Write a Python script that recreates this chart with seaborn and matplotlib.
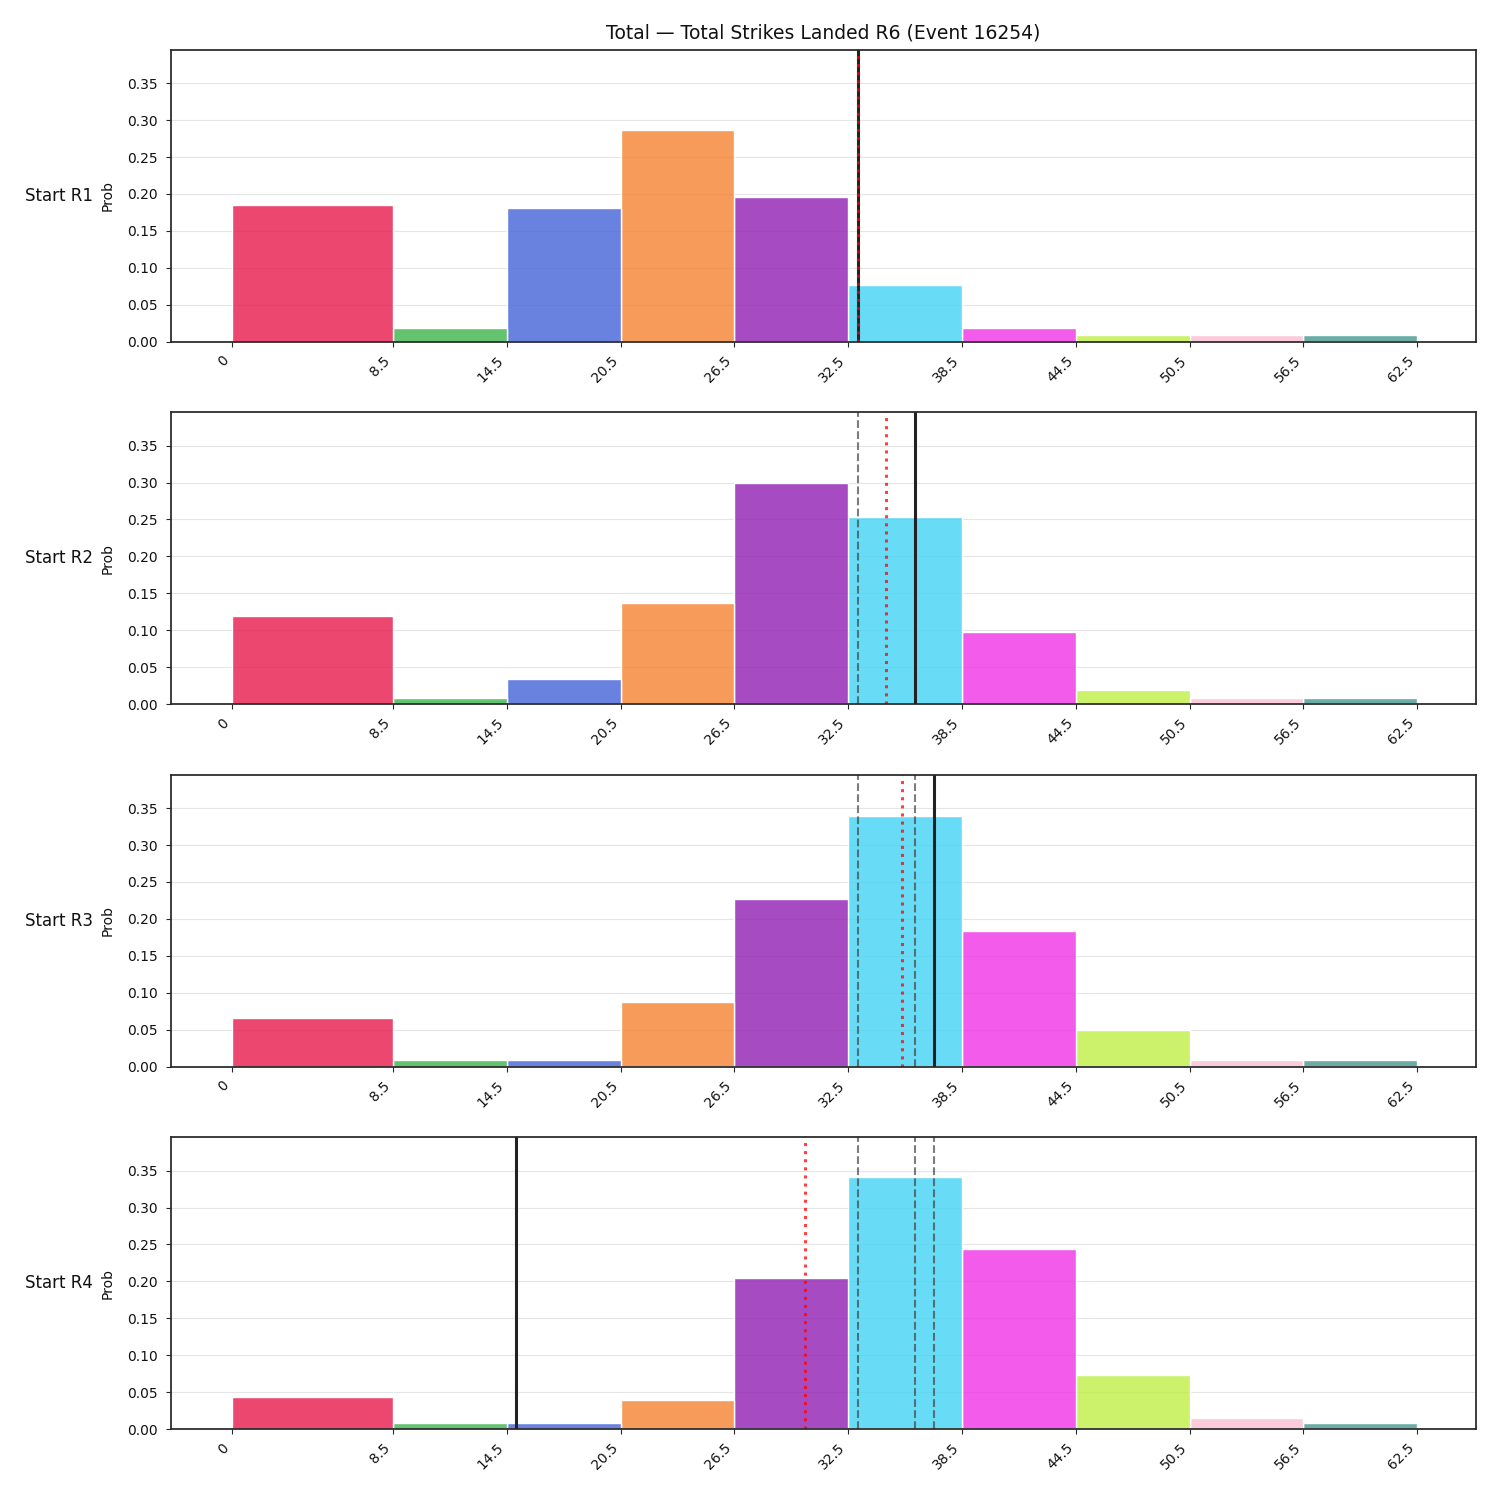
import numpy as np
import pandas as pd
import matplotlib
matplotlib.use("Agg")
import matplotlib.pyplot as plt
import seaborn as sns

# ---- data ----
title = "Total — Total Strikes Landed R6 (Event 16254)"
bin_edges = [0, 8.5, 14.5, 20.5, 26.5, 32.5, 38.5, 44.5, 50.5, 56.5, 62.5]
tick_labels = ["0", "8.5", "14.5", "20.5", "26.5", "32.5", "38.5", "44.5", "50.5", "56.5", "62.5"]
row_labels = ["Start R1", "Start R2", "Start R3", "Start R4"]

probs_r1 = [0.185, 0.019, 0.181, 0.286, 0.196, 0.077, 0.019, 0.0095, 0.0095, 0.0095]
probs_r2 = [0.119, 0.008, 0.034, 0.137, 0.300, 0.253, 0.097, 0.019, 0.008, 0.008]
probs_r3 = [0.066, 0.009, 0.009, 0.088, 0.227, 0.339, 0.183, 0.050, 0.009, 0.009]
probs_r4 = [0.043, 0.008, 0.008, 0.039, 0.205, 0.341, 0.244, 0.073, 0.0145, 0.008]
all_probs = [probs_r1, probs_r2, probs_r3, probs_r4]

# solid black line (current value), red dotted (mean), dashed (previous values)
line_now = [33.0, 36.0, 37.0, 15.0]
line_mean = [33.0, 34.5, 35.35, 30.25]
line_prev = [[], [33.0], [33.0, 36.0], [33.0, 36.0, 37.0]]

bar_colors = ["#e6194B", "#3cb44b", "#4363d8", "#f58231", "#911eb4",
              "#42d4f4", "#f032e6", "#bfef45", "#fabed4", "#469990"]

# ---- plot ----
sns.set_style("ticks")
plt.rcParams["font.family"] = ["DejaVu Sans"]

fig, axes = plt.subplots(4, 1, figsize=(15, 15), dpi=100)
fig.subplots_adjust(left=0.114, right=0.984, top=0.9667, bottom=0.0473, hspace=0.243)

edges = np.array(bin_edges, dtype=float)
centers = list((edges[:-1] + edges[1:]) / 2)
bin_names = [f"b{i}" for i in range(len(centers))]
palette = dict(zip(bin_names, bar_colors))

for i, ax in enumerate(axes):
    df = pd.DataFrame({"x": centers, "w": all_probs[i], "bin": bin_names})
    sns.histplot(data=df, x="x", weights="w", hue="bin", bins=list(bin_edges),
                 palette=palette, hue_order=bin_names, multiple="layer",
                 alpha=0.8, edgecolor="white", linewidth=1, legend=False, ax=ax)
    ax.set_ylim(0, 0.395)
    ax.set_xlim(-3.2, 65.6)
    ax.set_xticks(bin_edges)
    ax.set_xticklabels(tick_labels, rotation=45, ha="right", fontsize=10, color="#111111")
    ax.set_yticks(np.arange(0, 0.36, 0.05))
    ax.tick_params(axis="y", labelsize=10, pad=6, labelcolor="#111111")
    ax.tick_params(axis="x", pad=5)
    ax.yaxis.grid(True, color="#cccccc", alpha=0.5, linewidth=0.8)
    ax.set_axisbelow(True)
    ax.set_xlabel("")
    ax.set_ylabel("Prob", fontsize=10, labelpad=9, color="#111111")
    for s in ax.spines.values():
        s.set_visible(True)
        s.set_linewidth(1.25)
        s.set_color("#262626")
    for xv in line_prev[i]:
        ax.axvline(xv, color="#444444", alpha=0.7, linestyle="--", linewidth=1.5)
    ax.axvline(line_now[i], color="#222222", linestyle="-", linewidth=2.2)
    ax.axvline(line_mean[i], color="red", alpha=0.75, linestyle=":", linewidth=2.2)
    ax.text(-0.06, 0.5, row_labels[i], transform=ax.transAxes, ha="right",
            va="center", fontsize=12, color="#111111")

axes[0].set_title(title, fontsize=13.5, pad=8, color="#111111")

fig.savefig("out.png", dpi=100)
